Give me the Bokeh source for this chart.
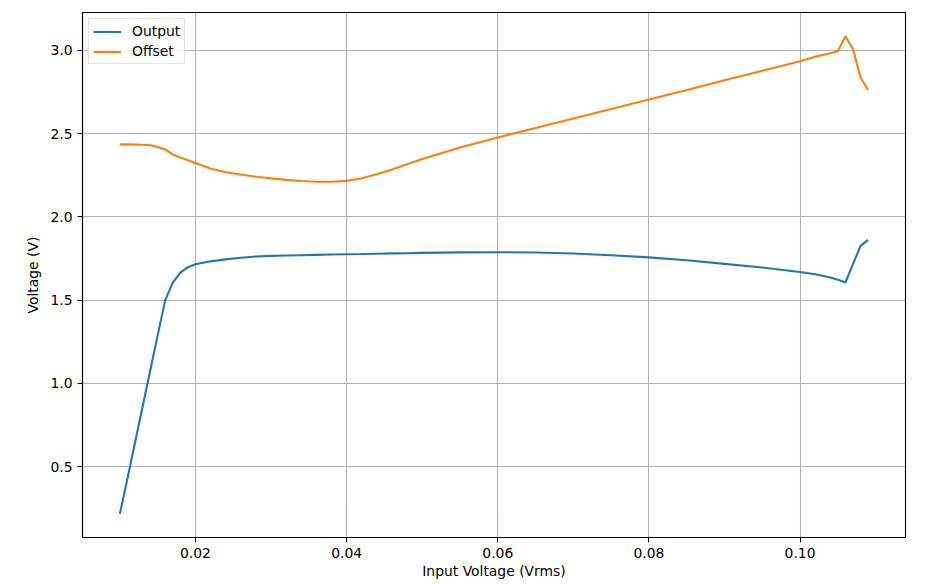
from bokeh.plotting import figure
from bokeh.models import Range1d, FixedTicker, Legend, LegendItem
from bokeh.embed import file_html
from bokeh.resources import INLINE

# ---- data ----
x_in = [0.010, 0.011, 0.012, 0.013, 0.014, 0.015, 0.016, 0.017, 0.018, 0.019, 0.020,
        0.022, 0.024, 0.026, 0.028, 0.030, 0.032, 0.034, 0.036, 0.038, 0.040,
        0.042, 0.044, 0.046, 0.048, 0.050, 0.055, 0.060,
        0.065, 0.070, 0.075, 0.080, 0.085, 0.090, 0.095, 0.100, 0.102, 0.104, 0.105,
        0.106, 0.107, 0.108, 0.109]
output_v = [0.218, 0.430, 0.645, 0.860, 1.075, 1.290, 1.500, 1.605, 1.665, 1.698, 1.715,
            1.733, 1.745, 1.755, 1.762, 1.766, 1.768, 1.770, 1.772, 1.774, 1.776,
            1.777, 1.779, 1.781, 1.782, 1.784, 1.787, 1.788,
            1.786, 1.780, 1.770, 1.757, 1.740, 1.718, 1.696, 1.669, 1.655, 1.636, 1.622,
            1.606, 1.716, 1.826, 1.862]
offset_v = [2.435, 2.435, 2.434, 2.433, 2.430, 2.420, 2.405, 2.375, 2.357, 2.340, 2.323,
            2.290, 2.268, 2.254, 2.241, 2.231, 2.222, 2.215, 2.211, 2.211, 2.216,
            2.232, 2.256, 2.285, 2.316, 2.347, 2.416, 2.477,
            2.534, 2.591, 2.648, 2.705, 2.762, 2.820, 2.877, 2.934, 2.962, 2.982, 2.994,
            3.084, 3.008, 2.838, 2.760]

x_ticks = [0.02, 0.04, 0.06, 0.08, 0.10]
x_tick_labels = ["0.02", "0.04", "0.06", "0.08", "0.10"]
y_ticks = [0.5, 1.0, 1.5, 2.0, 2.5, 3.0]
y_tick_labels = ["0.5", "1.0", "1.5", "2.0", "2.5", "3.0"]

FONT = "DejaVu Sans"

p = figure(frame_width=823, frame_height=525,
           x_range=Range1d(0.00505, 0.11395), y_range=Range1d(0.075, 3.227),
           output_backend="svg", toolbar_location=None,
           min_border_left=82, min_border_top=12, min_border_right=30, min_border_bottom=30)

p.background_fill_color = "white"
p.border_fill_color = "white"
p.outline_line_color = "black"
p.outline_line_width = 1.1

r1 = p.line(x_in, output_v, line_color="#1f77b4", line_width=2.1)
r2 = p.line(x_in, offset_v, line_color="#ff7f0e", line_width=2.1)

for ax in (p.xaxis[0], p.yaxis[0]):
    ax.axis_line_color = "black"
    ax.axis_line_width = 1.1
    ax.major_tick_in = 0
    ax.major_tick_out = 5
    ax.major_tick_line_color = "black"
    ax.minor_tick_line_color = None
    ax.major_label_text_font = FONT
    ax.major_label_text_font_size = "13.9px"
    ax.major_label_text_color = "black"
    ax.major_label_standoff = 5
    ax.axis_label_text_font = FONT
    ax.axis_label_text_font_size = "13.9px"
    ax.axis_label_text_font_style = "normal"
    ax.axis_label_text_color = "black"
    ax.axis_label_standoff = 6
p.xaxis[0].axis_label_standoff = 2

p.xaxis[0].ticker = FixedTicker(ticks=x_ticks)
p.xaxis[0].major_label_overrides = dict(zip(x_ticks, x_tick_labels))
p.yaxis[0].ticker = FixedTicker(ticks=y_ticks)
p.yaxis[0].major_label_overrides = dict(zip(y_ticks, y_tick_labels))
p.xaxis[0].axis_label = "Input Voltage (Vrms)"
p.yaxis[0].axis_label = "Voltage (V)"

p.xgrid.grid_line_color = "#b0b0b0"
p.ygrid.grid_line_color = "#b0b0b0"
p.xgrid.grid_line_width = 1.1
p.ygrid.grid_line_width = 1.1

legend = Legend(items=[LegendItem(label="Output", renderers=[r1]),
                       LegendItem(label="Offset", renderers=[r2])],
                location="top_left", margin=6, padding=4, spacing=4,
                glyph_width=28, glyph_height=15, label_height=15, label_standoff=11,
                label_text_font=FONT, label_text_font_size="13.9px", label_text_color="black",
                border_line_color="#cccccc", border_line_width=1,
                background_fill_color="white", background_fill_alpha=0.8)
p.add_layout(legend)

open("out.html", "w").write(file_html(p, INLINE))
